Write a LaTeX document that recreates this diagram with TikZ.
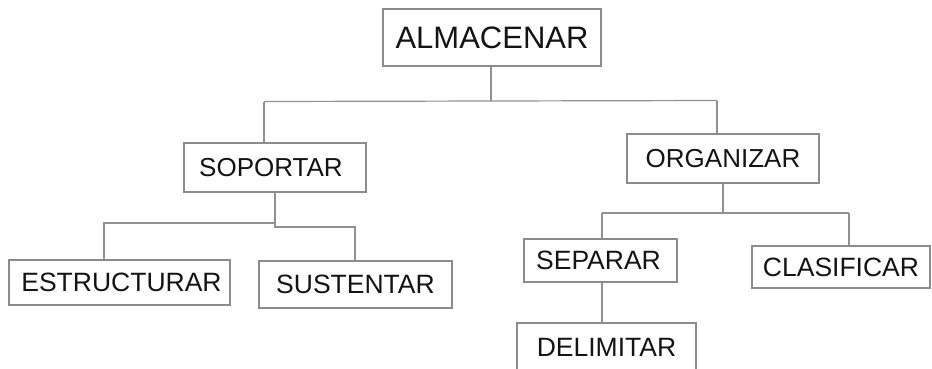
\documentclass[tikz,border=0pt]{standalone}
\usepackage{fontspec}
\setmainfont{Liberation Sans}
\begin{document}
\begin{tikzpicture}[x=1pt,y=-1pt,
  box/.style={draw=boxgray,line width=1.1pt,fill=white,inner sep=0pt,text=textdark},
  conn/.style={draw=linegray,line width=1.2pt}]
\definecolor{boxgray}{RGB}{140,140,140}
\definecolor{linegray}{RGB}{145,145,145}
\definecolor{textdark}{RGB}{20,20,20}
\useasboundingbox[fill=white] (0,0) rectangle (932,368);
% nodes
\node[box,minimum width=218pt,minimum height=57pt,font=\fontsize{31}{31}\selectfont] (alm) at (492,37.5) {ALMACENAR};
\node[box,minimum width=182pt,minimum height=49pt,font=\fontsize{26}{26}\selectfont] (sop) at (275,167.5) {\hspace*{-8pt}SOPORTAR};
\node[box,minimum width=192pt,minimum height=49pt,font=\fontsize{26}{26}\selectfont] (org) at (723,158.5) {ORGANIZAR};
\node[box,minimum width=221pt,minimum height=45pt,font=\fontsize{26.5}{26.5}\selectfont] (est) at (119.5,282.5) {\hspace*{4pt}ESTRUCTURAR};
\node[box,minimum width=193pt,minimum height=47pt,font=\fontsize{26.5}{26.5}\selectfont] (sus) at (355.5,284.5) {SUSTENTAR};
\node[box,minimum width=153pt,minimum height=43pt,font=\fontsize{26.5}{26.5}\selectfont] (sep) at (600.5,260.5) {\hspace*{-4pt}SEPARAR};
\node[box,minimum width=178pt,minimum height=42pt,font=\fontsize{26.5}{26.5}\selectfont] (cla) at (841,267) {CLASIFICAR};
\node[box,minimum width=179pt,minimum height=49pt,font=\fontsize{26.5}{26.5}\selectfont] (del) at (606.5,347.5) {DELIMITAR};
% junction coordinates
\coordinate (a1) at (491,101);
\coordinate (aL) at (264,101.5);
\coordinate (aR) at (717,100.5);
\coordinate (s1) at (275,227);
\coordinate (sL0) at (275,223);
\coordinate (sL) at (104,223);
\coordinate (sR) at (355,227);
\coordinate (o1) at (723,213);
\coordinate (oL) at (602,213);
\coordinate (oR) at (849,213);
% connectors
\draw[conn] (alm.south -| a1) -- (a1);
\draw[conn] (aL) -- (a1) -- (aR);
\draw[conn] (aL) -- (aL |- sop.north);
\draw[conn] (aR) -- (aR |- org.north);
\draw[conn] (sop.south -| s1) -- (s1) -- (sR) -- (sR |- sus.north);
\draw[conn] (sL0) -- (sL) -- (sL |- est.north);
\draw[conn] (org.south -| o1) -- (o1);
\draw[conn] (oL) -- (oR);
\draw[conn] (oL) -- (oL |- sep.north);
\draw[conn] (oR) -- (oR |- cla.north);
\draw[conn] (sep.south -| oL) -- (del.north -| oL);
\end{tikzpicture}
\end{document}
